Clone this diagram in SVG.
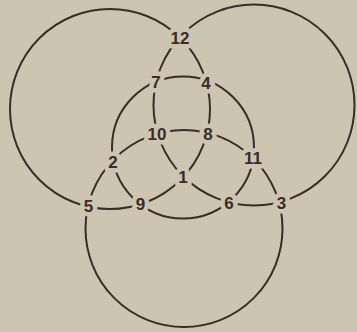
<svg xmlns="http://www.w3.org/2000/svg" width="357" height="332" viewBox="0 0 357 332">
<style>
.bg{fill:#cdc5b1}
.c{fill:none;stroke:#3b2c28;stroke-width:2}
.n text{font-family:"Liberation Sans",Arial,sans-serif;font-size:17px;font-weight:bold;fill:#3b2c28;text-anchor:middle;stroke:#cdc5b1;stroke-width:9;stroke-linejoin:round;paint-order:stroke}
</style>
<rect class="bg" x="0" y="0" width="357" height="332"/>
<g id="connectors">
<circle class="c" cx="110" cy="109" r="100"/>
<circle class="c" cx="254" cy="105" r="100.5"/>
<circle class="c" cx="184" cy="228.5" r="98.5"/>
<circle class="c" cx="183" cy="147.5" r="71"/>
</g>
<g class="n">
<g id="n12"><text x="180" y="44">12</text></g>
<g id="n7"><text x="156" y="87.5">7</text></g>
<g id="n4"><text x="206" y="88.5">4</text></g>
<g id="n10"><text x="157" y="140">10</text></g>
<g id="n8"><text x="208" y="140">8</text></g>
<g id="n2"><text x="113" y="167.5">2</text></g>
<g id="n11"><text x="253" y="164">11</text></g>
<g id="n1"><text x="183" y="183">1</text></g>
<g id="n5"><text x="88.5" y="212">5</text></g>
<g id="n9"><text x="140.5" y="210">9</text></g>
<g id="n6"><text x="229" y="209">6</text></g>
<g id="n3"><text x="281.5" y="208.5">3</text></g>
</g>
</svg>
